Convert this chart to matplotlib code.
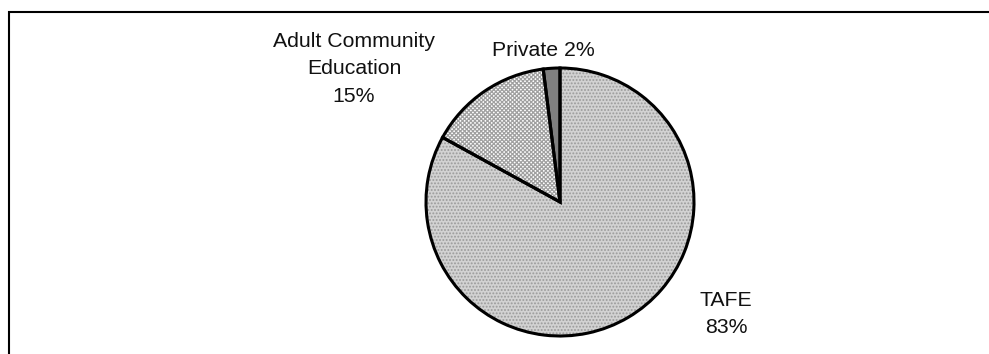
# coding: UTF-8

import numpy as np
import matplotlib.pyplot as plt

plt.rcParams['font.family'] = ['Liberation Sans', 'DejaVu Sans']
plt.rcParams['hatch.linewidth'] = 0.9

# 提供機関別の割合（%）
sectors = ["TAFE", "Adult Community\nEducation", "Private"]
shares = [83, 15, 2]

fills = ["#d2d2d2", "#ffffff", "#808080"]
hatches = [".....", "xxxxxxxx", None]
hatch_colors = ["#9a9a9a", "#a0a0a0", "#808080"]

W, H = 989, 354
fig = plt.figure(figsize=(W / 100, H / 100), dpi=100)
ax = fig.add_axes([0, 0, 1, 1])
ax.set_xlim(0, W)
ax.set_ylim(0, H)
ax.set_aspect("equal")
ax.axis("off")

cx, cy, r = 560, H - 202, 134

# 塗りと模様（枠線なし）
wedges, _ = ax.pie(shares, colors=fills, startangle=90, counterclock=False,
                   center=(cx, cy), radius=r, frame=True,
                   wedgeprops=dict(linewidth=0))
for w, h, hc in zip(wedges, hatches, hatch_colors):
    w.set_edgecolor(hc)
    if h:
        w.set_hatch(h)

# 黒い枠線を上から重ねる
ax.pie(shares, colors=["none"] * 3, startangle=90, counterclock=False,
       center=(cx, cy), radius=r, frame=True,
       wedgeprops=dict(linewidth=2.2, edgecolor="black", fill=False))
ax.set_xlim(0, W)
ax.set_ylim(0, H)
ax.axis("off")

# ラベル
label_pos = [(726, H - 314), (354, H - 69), (543, H - 50)]
for name, v, (x, y) in zip(sectors, shares, label_pos):
    if name == "Private":
        s = "{0} {1}%".format(name, v)
    else:
        s = "{0}\n{1}%".format(name, v)
    ax.text(x, y, s, ha="center", va="center", fontsize=15.3,
            linespacing=1.55, color="#111111")

# 左と上の枠
ax.plot([8.5, 8.5, W], [0, H - 12, H - 12], color="black", linewidth=1.5,
        solid_joinstyle="miter", clip_on=False)

plt.savefig("out.png", dpi=100)
